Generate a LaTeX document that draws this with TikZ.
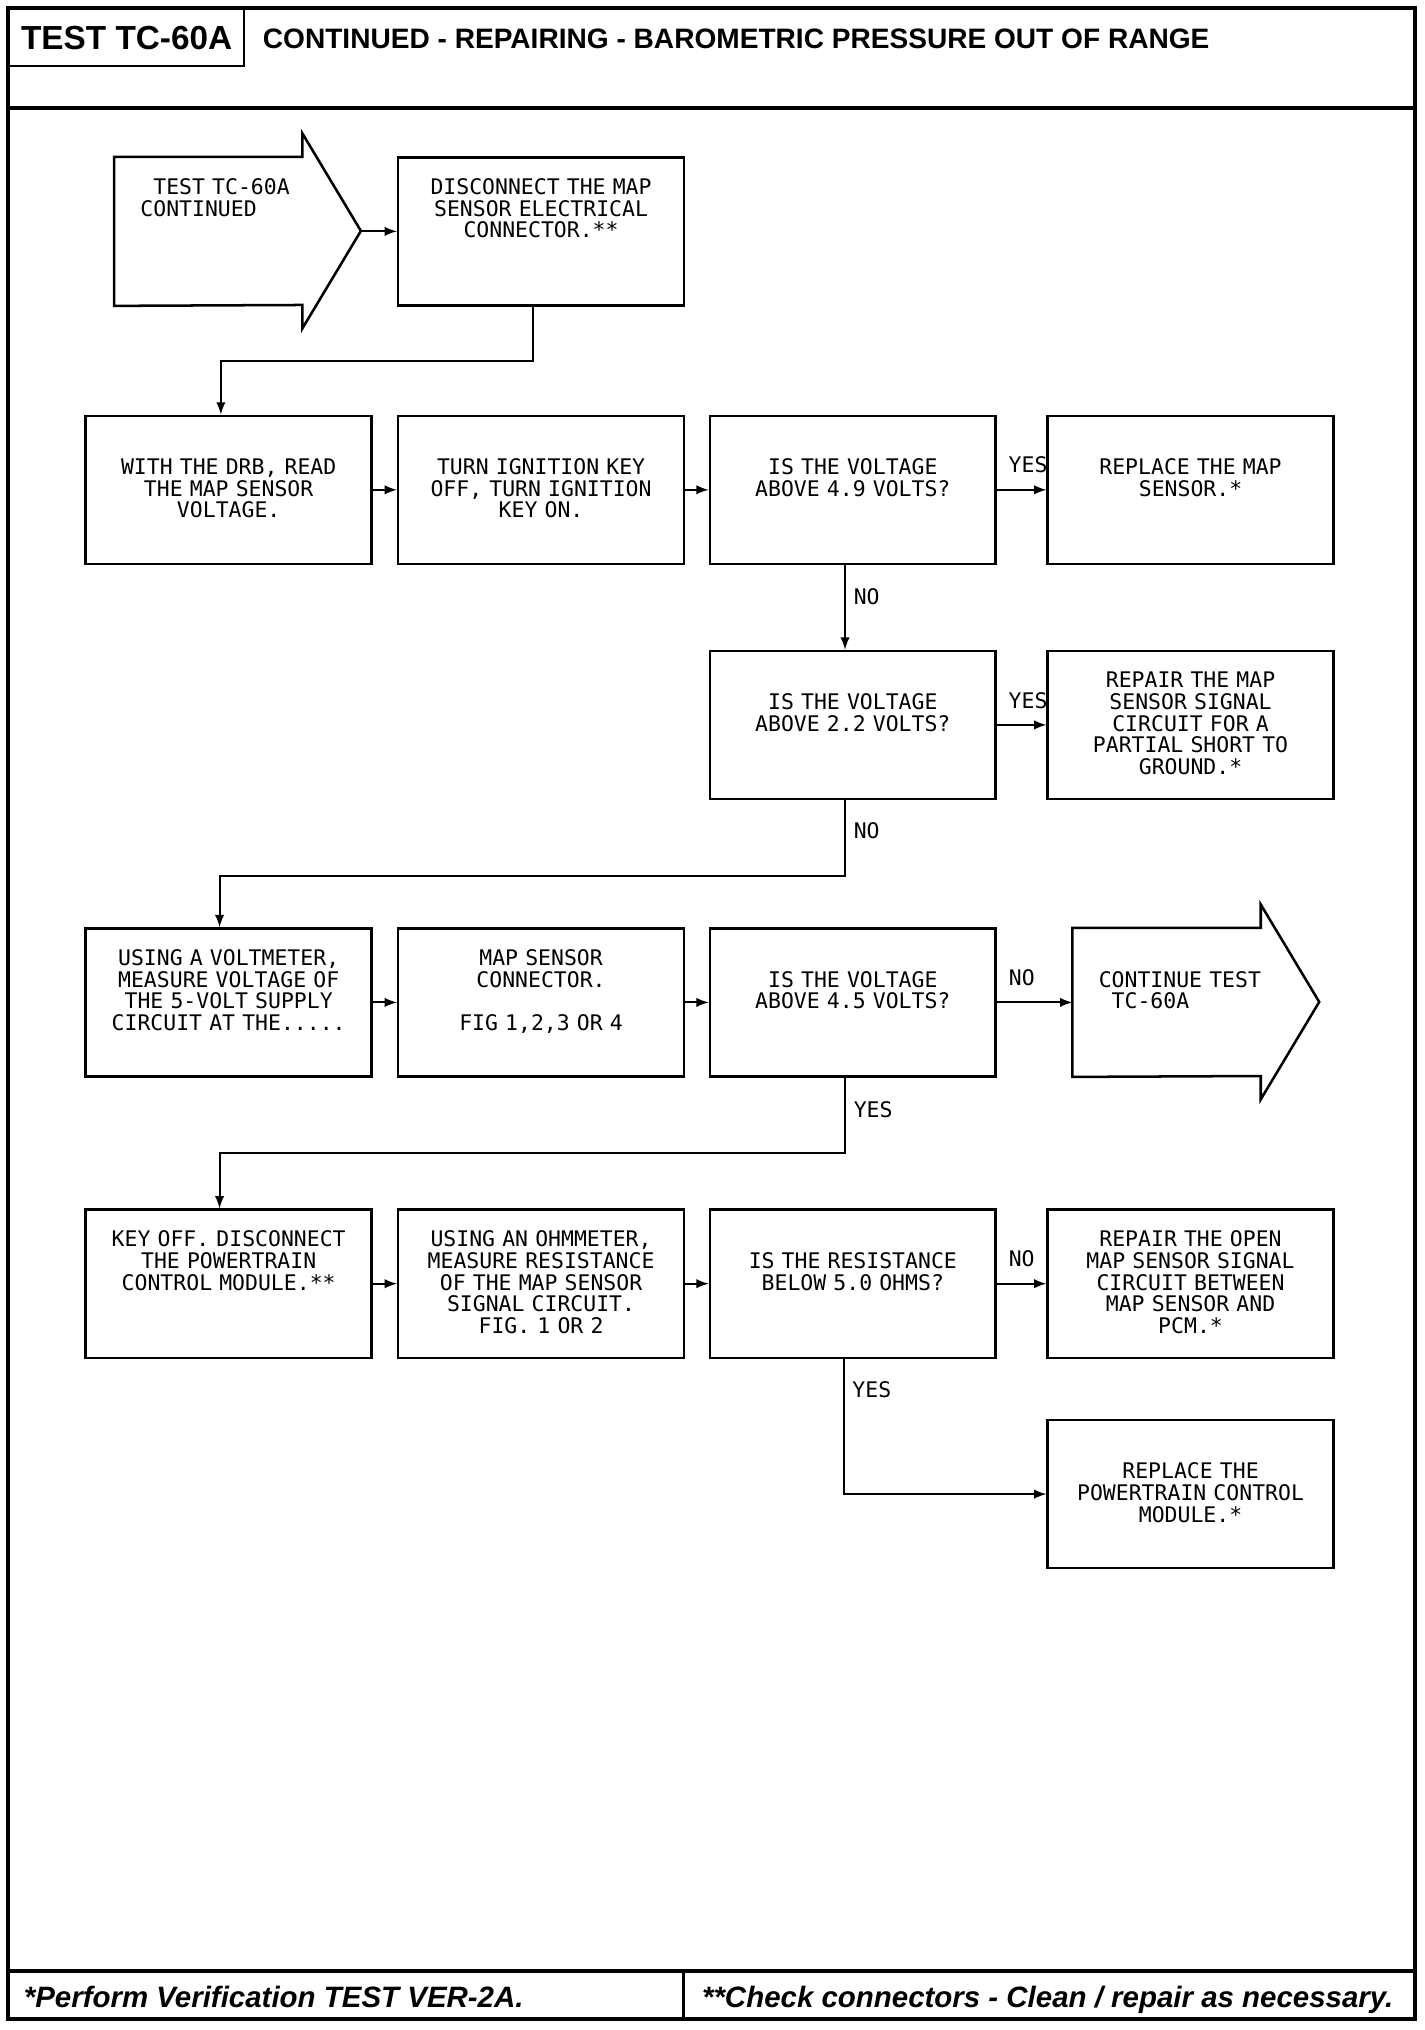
\documentclass[tikz,border=0pt]{standalone}
\usepackage{fontspec}
\usetikzlibrary{arrows,positioning}
\newfontfamily\plotter{DejaVu Sans Mono}
\newfontfamily\headfont{Liberation Sans}

\begin{document}
\begin{tikzpicture}
[node distance=0.37cm, >=latex,
% STYLES
% The box style is used for every step of the test
box/.style={rectangle, draw, line width=1.1pt, minimum width=4.4cm, minimum height=2.28cm, text width=4.2cm, inner xsep=0.1cm, inner ysep=0pt, align=center, text height=0.57cm, text depth=1.71cm, font=\plotter\fontsize{9.4}{9.5}\selectfont},
% The lowtext style starts the text on the second line of a box
lowtext/.style={text height=0.904cm, text depth=1.376cm},
% The entry style is used for the big arrows (jump to another test)
entry/.style={rectangle, minimum height=2.28cm, text width=2.6cm, inner xsep=0.4cm, inner ysep=0pt, align=left, text height=0.57cm, text depth=1.71cm, font=\plotter\fontsize{9.4}{9.5}\selectfont},
% The answer style is used for the YES / NO labels
answer/.style={inner xsep=0.12cm, inner ysep=0.24cm, font=\plotter\fontsize{9.4}{9.5}\selectfont},
link/.style={->, line width=0.85pt},
head/.style={font=\headfont\bfseries\fontsize{12.3}{14}\selectfont},
foot/.style={font=\headfont\bfseries\itshape\fontsize{12.9}{14}\selectfont, inner sep=0pt, anchor=base west}]

\useasboundingbox (0,0) rectangle (21.92,-31.248);

% Frame
\draw [line width=1.7pt] (0.12,-0.12) rectangle (21.78,-31.08);
\draw [line width=1.7pt] (0.12,-1.66) -- (21.78,-1.66);
\draw [line width=1.7pt] (0.12,-30.34) -- (21.78,-30.34);
\draw [line width=1.1pt] (10.52,-30.34) -- (10.52,-31.08);

% Header
\node [head, draw, line width=1.1pt, anchor=north west, minimum width=3.62cm, minimum height=0.88cm, font=\headfont\bfseries\fontsize{14.6}{16}\selectfont] (test-id) at (0.12,-0.12) {TEST TC-60A};
\node [head, anchor=west, inner sep=0pt] (title) at (4.04,-0.6) {CONTINUED - REPAIRING - BAROMETRIC PRESSURE OUT OF RANGE};

% Draw steps
\node [box, lowtext] (drb) at (3.52,-7.54) {WITH THE DRB, READ\\THE MAP SENSOR\\VOLTAGE.};
\node [box, lowtext, right=of drb] (ignition) {TURN IGNITION KEY\\OFF, TURN IGNITION\\KEY ON.};
\node [box, lowtext, right=0.36cm of ignition] (volt49) {IS THE VOLTAGE\\ABOVE 4.9 VOLTS?};
\node [box, lowtext, right=0.76cm of volt49] (replace-map) {REPLACE THE MAP\\SENSOR.*};

\node [box, above=1.66cm of ignition] (disc) {DISCONNECT THE MAP\\SENSOR ELECTRICAL\\CONNECTOR.**};
\node [entry, left=0.94cm of disc] (start) {\hphantom{T}TEST TC-60A\\CONTINUED};

\node [box, lowtext, below=1.3cm of volt49] (volt22) {IS THE VOLTAGE\\ABOVE 2.2 VOLTS?};
\node [box, right=0.76cm of volt22] (repair-short) {REPAIR THE MAP\\SENSOR SIGNAL\\CIRCUIT FOR A\\PARTIAL SHORT TO\\GROUND.*};

\node [box] (voltmeter) at (3.52,-15.43) {USING A VOLTMETER,\\MEASURE VOLTAGE OF\\THE 5-VOLT SUPPLY\\CIRCUIT AT THE.....};
\node [box, right=of voltmeter] (connector) {MAP SENSOR\\CONNECTOR.\\[9.5pt]FIG 1,2,3 OR 4};
\node [box, lowtext, right=0.36cm of connector] (volt45) {IS THE VOLTAGE\\ABOVE 4.5 VOLTS?};
\node [entry, lowtext, right=1.16cm of volt45] (continue) {CONTINUE TEST\\\hphantom{T}TC-60A};

\node [box] (key-off) at (3.52,-19.76) {KEY OFF. DISCONNECT\\THE POWERTRAIN\\CONTROL MODULE.**};
\node [box, right=of key-off] (ohmmeter) {USING AN OHMMETER,\\MEASURE RESISTANCE\\OF THE MAP SENSOR\\SIGNAL CIRCUIT.\\FIG. 1 OR 2};
\node [box, lowtext, right=0.36cm of ohmmeter] (resist) {IS THE RESISTANCE\\BELOW 5.0 OHMS?};
\node [box, right=0.76cm of resist] (repair-open) {REPAIR THE OPEN\\MAP SENSOR SIGNAL\\CIRCUIT BETWEEN\\MAP SENSOR AND\\PCM.*};
\node [box, lowtext, below=0.92cm of repair-open] (replace-pcm) {REPLACE THE\\POWERTRAIN CONTROL\\MODULE.*};

% Big arrows
\draw [line width=1.1pt] (start.north west) -- ++(2.9,0) -- ++(0,0.36) -- ++(0.9,-1.5) -- ++(-0.9,-1.5) -- ++(0,0.36) -- (start.south west) -- cycle;
\coordinate (start-tip) at ([xshift=3.8cm]start.west);
\draw [line width=1.1pt] (continue.north west) -- ++(2.9,0) -- ++(0,0.36) -- ++(0.9,-1.5) -- ++(-0.9,-1.5) -- ++(0,0.36) -- (continue.south west) -- cycle;

% Draw the links between steps
\path [link]
(start-tip) edge (disc)
(drb) edge (ignition)
(ignition) edge (volt49)
(volt49) edge node [answer, above, pos=0.63] {YES} (replace-map)
(volt22) edge node [answer, above, pos=0.63] {YES} (repair-short)
(voltmeter) edge (connector)
(connector) edge (volt45)
(volt45) edge node [answer, above, pos=0.33] {NO} (continue)
(key-off) edge (ohmmeter)
(ohmmeter) edge (resist)
(resist) edge node [answer, above] {NO} (repair-open);

\draw [link] ([xshift=-0.12cm]disc.south) -- ++(0,-0.84) -| ([xshift=-0.12cm]drb.north);
\draw [link] ([xshift=-0.12cm]volt49.south) -- node [answer, right, pos=0.37] {NO} ([xshift=-0.12cm]volt22.north);
\draw [link] ([xshift=-0.12cm]volt22.south) -- node [answer, right, pos=0.41] {NO} ++(0,-1.16) -| ([xshift=-0.14cm]voltmeter.north);
\draw [link] ([xshift=-0.12cm]volt45.south) -- node [answer, right, pos=0.43] {YES} ++(0,-1.16) -| ([xshift=-0.14cm]key-off.north);
\draw [link] ([xshift=-0.14cm]resist.south) |- node [answer, right, pos=0.115] {YES} (replace-pcm.west);

% Footer
\node [foot] (note-verify) at (0.36,-30.9) {*Perform Verification TEST VER-2A.};
\node [foot] (note-connect) at (10.8,-30.9) {**Check connectors - Clean / repair as necessary.};

\end{tikzpicture}
\end{document}
